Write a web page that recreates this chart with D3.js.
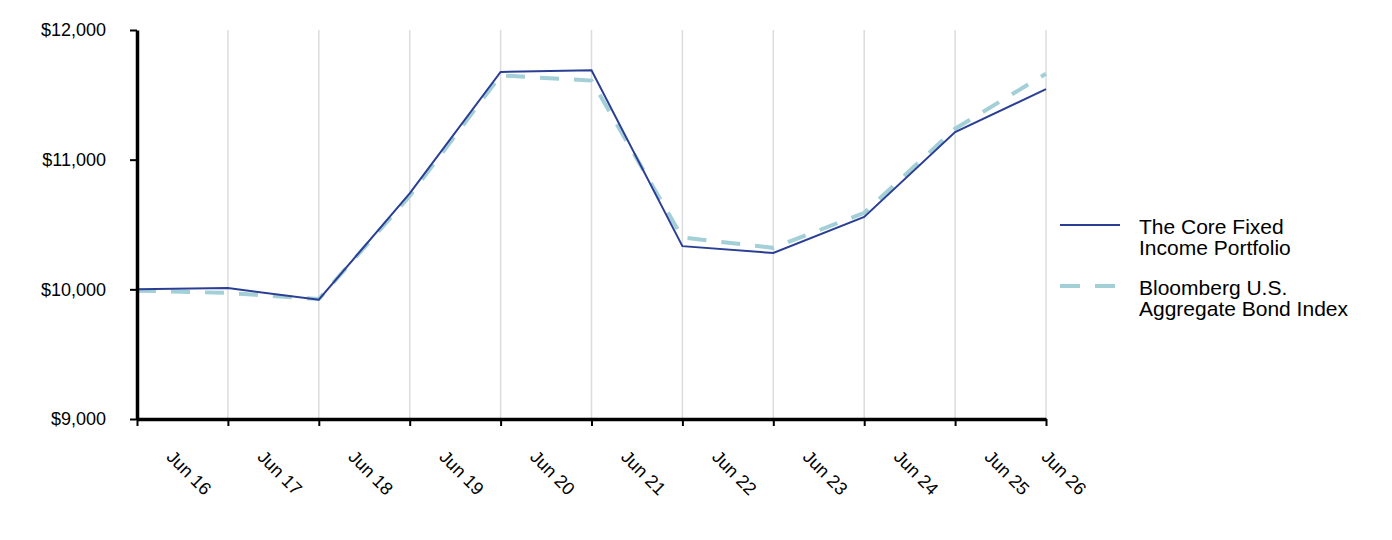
<!DOCTYPE html>
<html lang="en">
<head>
    <meta charset="UTF-8">
    <title>Growth of $10,000</title>
    <script src="https://d3js.org/d3.v7.min.js"></script>
    <style>
        body { margin: 0; background: #fff; }
        svg { font-family: Arial, "Liberation Sans", sans-serif; }
        .grid line { stroke: #dcdcdc; stroke-width: 1.5px; }
        .axis .domain { stroke: #000; stroke-width: 3.5px; }
        .axis .tick line { stroke: #000; stroke-width: 2px; }
        .axis text { font-size: 18px; fill: #000; }
        .legend text { font-size: 21px; fill: #000; }
    </style>
</head>
<body>
    <svg width="1392" height="540"></svg>
    <script>
        // values
        const categories = ["Jun 16", "Jun 17", "Jun 18", "Jun 19", "Jun 20", "Jun 21",
                            "Jun 22", "Jun 23", "Jun 24", "Jun 25", "Jun 26"];
        const portfolio = [10000, 10010, 9920, 10740, 11677, 11690, 10333, 10280, 10558, 11213, 11544];
        const benchmark = [9990, 9972, 9925, 10720, 11650, 11610, 10400, 10320, 10590, 11239, 11663];
        const yTicks = [9000, 10000, 11000, 12000];
        const seriesNames = [["The Core Fixed", "Income Portfolio"], ["Bloomberg U.S.", "Aggregate Bond Index"]];

        const navy = "#2a3f94";
        const lightBlue = "#a3cfd7";

        const svg = d3.select("svg");
        const plotLeft = 137, plotRight = 1046, plotTop = 30, plotBottom = 419;

        const x = d3.scalePoint().domain(categories).range([plotLeft, plotRight]);
        const y = d3.scaleLinear().domain([9000, 12000]).range([plotBottom, plotTop]);

        // vertical grid lines
        svg.append("g").attr("class", "grid")
            .selectAll("line")
            .data(categories.slice(1))
            .enter()
            .append("line")
            .attr("x1", d => x(d)).attr("x2", d => x(d))
            .attr("y1", plotTop).attr("y2", plotBottom);

        // lines
        const line = data => d3.line()
            .x((d, i) => x(categories[i]))
            .y(d => y(d))(data);

        svg.append("path")
            .attr("d", line(benchmark))
            .attr("fill", "none")
            .attr("stroke", lightBlue)
            .attr("stroke-width", 4)
            .attr("stroke-dasharray", "19,15");

        svg.append("path")
            .attr("d", line(portfolio))
            .attr("fill", "none")
            .attr("stroke", navy)
            .attr("stroke-width", 2);

        // y axis
        svg.append("g").attr("class", "axis")
            .attr("transform", `translate(${plotLeft},0)`)
            .call(d3.axisLeft(y).tickValues(yTicks).tickSize(7).tickSizeOuter(0).tickPadding(24)
                .tickFormat(d => "$" + d3.format(",")(d)));

        // x axis
        const xAxis = svg.append("g").attr("class", "axis")
            .attr("transform", `translate(0,${plotBottom})`)
            .call(d3.axisBottom(x).tickSize(7).tickSizeOuter(0));

        // rotated labels sit right of their tick; the last one is pulled back inside
        xAxis.selectAll("text")
            .attr("x", 0).attr("y", 0).attr("dy", 0)
            .attr("text-anchor", "start")
            .attr("transform", d => {
                const dx = Math.min(x(d) + 28, plotRight - 6) - x(d);
                return `translate(${dx},39) rotate(45)`;
            });

        // legend
        const legend = svg.append("g").attr("class", "legend");
        const styles = [
            { color: navy, width: 2, dash: null, y: 225 },
            { color: lightBlue, width: 4, dash: "20,15", y: 286 }
        ];
        styles.forEach((s, i) => {
            legend.append("line")
                .attr("x1", 1060).attr("x2", 1120)
                .attr("y1", s.y).attr("y2", s.y)
                .attr("stroke", s.color)
                .attr("stroke-width", s.width)
                .attr("stroke-dasharray", s.dash);
            const t = legend.append("text").attr("x", 1139).attr("y", s.y + 9);
            seriesNames[i].forEach((part, j) => {
                t.append("tspan").attr("x", 1139).attr("dy", j === 0 ? 0 : 21).text(part);
            });
        });
    </script>
</body>
</html>
